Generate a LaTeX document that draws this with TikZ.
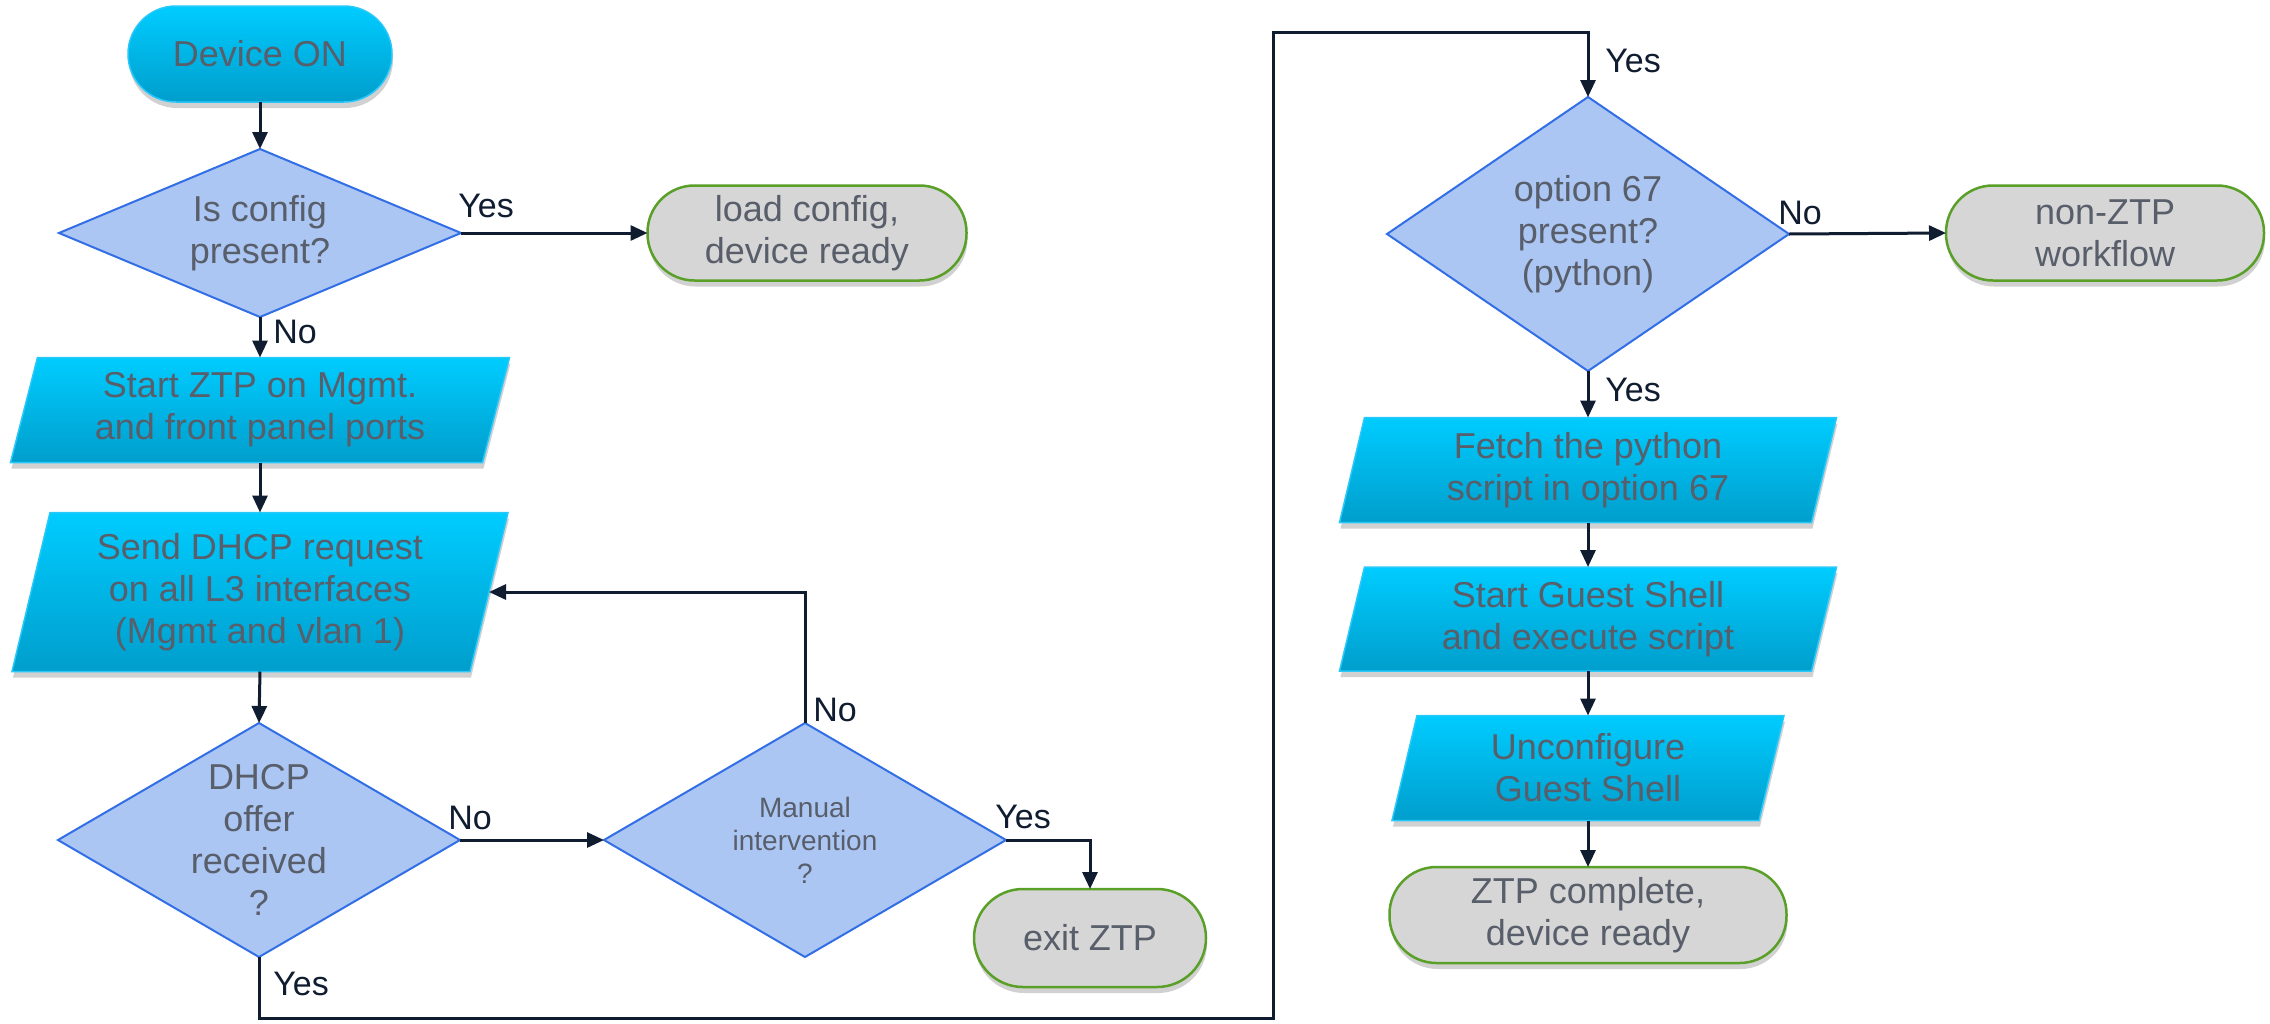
\documentclass[tikz,border=0pt]{standalone}
\usepackage{fontspec}
\setmainfont{Liberation Sans}
\usetikzlibrary{arrows.meta,shadows,calc}
\pgfdeclarelayer{background}
\pgfsetlayers{background,main}
\definecolor{txt}{RGB}{88,94,106}
\definecolor{navy}{RGB}{16,28,48}
\definecolor{cyanT}{RGB}{0,204,255}
\definecolor{cyanB}{RGB}{0,158,204}
\definecolor{cyanE}{RGB}{40,200,250}
\definecolor{dfill}{RGB}{172,198,244}
\definecolor{dline}{RGB}{50,110,230}
\definecolor{tfill}{RGB}{214,214,214}
\definecolor{tline}{RGB}{90,160,40}
\newcommand\paragram[2]{%
  \path[parafill] ([xshift=-#2]#1.south west) -- ([xshift=-#2]#1.south east)
    -- ([xshift=#2]#1.north east) -- ([xshift=#2]#1.north west) -- cycle;}
\tikzset{
  softshadow/.style={drop shadow={shadow xshift=1pt, shadow yshift=-6pt, opacity=0.18, fill=black}},
  base/.style={font=\fontsize{36}{42}\selectfont, text=txt, align=center, inner sep=0pt, outer sep=0pt},
  terminal/.style={base, rectangle, rounded corners=47pt, minimum height=95pt, fill=tfill, draw=tline, line width=2.5pt, softshadow},
  startnode/.style={base, rectangle, rounded corners=48pt, minimum height=96pt, top color=cyanT, bottom color=cyanB, draw=cyanE, line width=1.5pt, softshadow},
  procbox/.style={base, rectangle, minimum height=105pt},
  decbox/.style={base, rectangle},
  parafill/.style={top color=cyanT, bottom color=cyanB, draw=cyanE, line width=1.5pt, softshadow},
  diamondfill/.style={fill=dfill, draw=dline, line width=2pt, line join=miter},
  arr/.style={draw=navy, line width=3pt, -{Triangle[length=17pt,width=15pt]}},
  lbl/.style={font=\fontsize{34}{40}\selectfont, text=navy, inner sep=0pt},
}
\begin{document}
\begin{tikzpicture}[x=1pt,y=-1pt]
\useasboundingbox (0,0) rectangle (2270,1023);

% nodes
\node[startnode, minimum width=264pt] (devon) at (260,54) {Device ON};
\node[decbox, minimum width=402pt, minimum height=168pt] (q1) at (260,233) {Is config\\present?};
\node[terminal, minimum width=319pt] (load) at (807,233) {load config,\\device ready};
\node[procbox, minimum width=472pt] (ztp) at (260,410) {Start ZTP on Mgmt.\\and front panel ports};
\node[procbox, minimum width=458pt, minimum height=159pt] (dhcp) at (260,592) {Send DHCP request\\on all L3 interfaces\\(Mgmt and vlan 1)};
\node[decbox, minimum width=402pt, minimum height=234pt] (q2) at (259,840) {DHCP\\offer\\received\\?};
\node[decbox, minimum width=402pt, minimum height=234pt, font=\fontsize{28}{33}\selectfont] (q3) at (805,840) {Manual\\intervention\\?};
\node[terminal, minimum width=232pt, minimum height=98pt, rounded corners=49pt] (exit) at (1090,938) {exit ZTP};
\node[decbox, minimum width=402pt, minimum height=274pt] (q4) at (1588,234) {option 67\\present?\\(python)};
\node[terminal, minimum width=318pt] (nonztp) at (2105,233) {non-ZTP\\workflow};
\node[procbox, minimum width=472pt] (fetch) at (1588,470) {Fetch the python\\script in option 67};
\node[procbox, minimum width=472pt, minimum height=104pt] (guest) at (1588,619) {Start Guest Shell\\and execute script};
\node[procbox, minimum width=367pt] (unconf) at (1588,768) {Unconfigure\\Guest Shell};
\node[terminal, minimum width=397pt, minimum height=96pt] (done) at (1588,915) {ZTP complete,\\device ready};

\begin{pgfonlayer}{background}
  \fill[white] (0,0) rectangle (2270,1023);
  \paragram{ztp}{13.5pt}
  \paragram{dhcp}{19pt}
  \paragram{fetch}{12.5pt}
  \paragram{guest}{12.5pt}
  \paragram{unconf}{12.5pt}
  \foreach \d in {q1,q2,q3,q4}
    \path[diamondfill] (\d.north) -- (\d.east) -- (\d.south) -- (\d.west) -- cycle;
\end{pgfonlayer}

% connectors
\coordinate (b2) at (1273,1018);
\coordinate (b3) at (1273,32);
\draw[arr] (devon.south) -- (q1.north);
\draw[arr] (q1.east) -- (load.west);
\draw[arr] (q1.south) -- (ztp.north);
\draw[arr] (ztp.south) -- (dhcp.north);
\draw[arr] (dhcp.south) -- (q2.north);
\draw[arr] (q2.east) -- (q3.west);
\draw[arr] (q3.east) -| (exit.north);
\draw[arr] (q3.north) |- (dhcp.east);
\draw[arr] (q2.south) |- (b2) -- (b3) -| (q4.north);
\draw[arr] (q4.east) -- (nonztp.west);
\draw[arr] (q4.south) -- (fetch.north);
\draw[arr] (fetch.south) -- (guest.north);
\draw[arr] (guest.south) -- (unconf.north);
\draw[arr] (unconf.south) -- (done.north);

% labels
\node[lbl] (l1) at (486,206) {Yes};
\node[lbl] (l2) at (295,332) {No};
\node[lbl] (l3) at (470,818) {No};
\node[lbl] (l4) at (1023,817) {Yes};
\node[lbl] (l5) at (835,710) {No};
\node[lbl] (l6) at (301,984) {Yes};
\node[lbl] (l7) at (1633,61) {Yes};
\node[lbl] (l8) at (1800,213) {No};
\node[lbl] (l9) at (1633,390) {Yes};
\end{tikzpicture}
\end{document}
